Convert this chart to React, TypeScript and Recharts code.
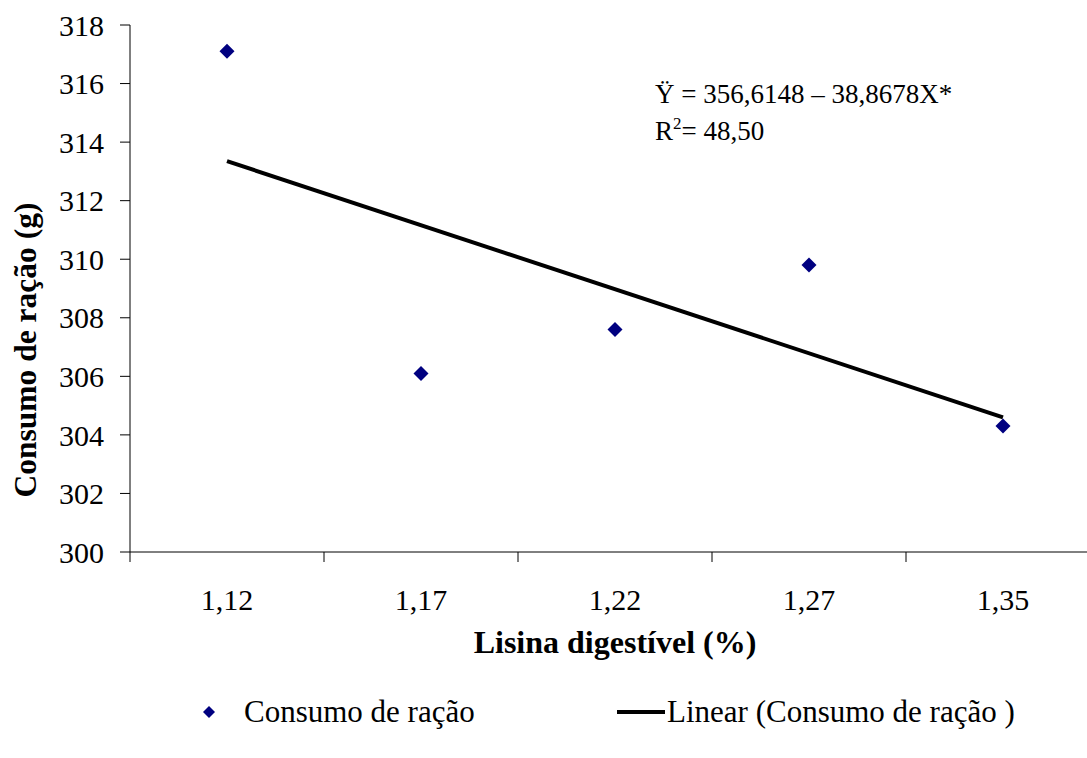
import React from "react";
import {
  ComposedChart,
  Scatter,
  Line,
  XAxis,
  YAxis,
  Legend,
} from "recharts";

// lisina digestível (%) - categorias do eixo x
const lisina = ["1,12", "1,17", "1,22", "1,27", "1,35"];
const posicao = [1, 2, 3, 4, 5];
// consumo de ração observado (g)
const consumo = [317.1, 306.1, 307.6, 309.8, 304.3];
// linha de tendência (pontas)
const tendencia = [313.35, null, null, null, 304.6];
const yTicks = [300, 302, 304, 306, 308, 310, 312, 314, 316, 318];

const SERIE = "Consumo de ração";
const LINEAR = "Linear (Consumo de ração )";

const FONT = '"Liberation Serif", "Times New Roman", serif';
const W = 1110;
const H = 758;
const MARGIN = { top: 25, right: 10, left: 0, bottom: 26 };
const Y_WIDTH = 130;
const HALF_BAND = (W - MARGIN.left - MARGIN.right - Y_WIDTH) / lisina.length / 2;

const data = posicao.map((x, i) => ({
  x,
  consumo: consumo[i],
  trend: tendencia[i],
}));

const Diamond = (props: any) => {
  const { cx, cy } = props;
  const r = 7.5;
  return (
    <polygon
      points={`${cx},${cy - r} ${cx + r},${cy} ${cx},${cy + r} ${cx - r},${cy}`}
      fill="#000080"
    />
  );
};

const XTick = (props: any) => {
  const { x, y, payload } = props;
  const label = lisina[payload.value - 1] ?? "";
  return (
    <g>
      <line x1={x - HALF_BAND} y1={y} x2={x - HALF_BAND} y2={y + 10} stroke="#000" />
      <text x={x} y={y + 58} textAnchor="middle" fontFamily={FONT} fontSize={30} fill="#000">
        {label}
      </text>
    </g>
  );
};

const XLabel = (props: any) => {
  const vb = props.viewBox || { x: Y_WIDTH, y: 552, width: 970, height: 140 };
  return (
    <text
      x={vb.x + vb.width / 2}
      y={vb.y + 101}
      textAnchor="middle"
      fontFamily={FONT}
      fontSize={32}
      fontWeight="bold"
      fill="#000"
    >
      Lisina digestível (%)
    </text>
  );
};

// rótulo vertical, um pouco abaixo do centro da área do gráfico (como no original)
const YLabel = () => {
  const lx = 36;
  const ly = 350;
  return (
    <text
      x={lx}
      y={ly}
      transform={`rotate(-90, ${lx}, ${ly})`}
      textAnchor="middle"
      fontFamily={FONT}
      fontSize={31.5}
      fontWeight="bold"
      fill="#000"
    >
      Consumo de ração (g)
    </text>
  );
};

const LegendContent = () => (
  <div style={{ position: "relative", height: 40, fontFamily: FONT, fontSize: 31, color: "#000" }}>
    <svg style={{ position: "absolute", left: 203, top: 14 }} width={12} height={12}>
      <polygon points="6,0 12,6 6,12 0,6" fill="#000080" />
    </svg>
    <span style={{ position: "absolute", left: 244, top: 2, lineHeight: "36px", whiteSpace: "nowrap" }}>
      {SERIE}
    </span>
    <svg style={{ position: "absolute", left: 617, top: 18 }} width={48} height={4}>
      <rect x={0} y={0} width={48} height={4} fill="#000" />
    </svg>
    <span style={{ position: "absolute", left: 667, top: 2, lineHeight: "36px", whiteSpace: "nowrap" }}>
      {LINEAR}
    </span>
  </div>
);

export default function App() {
  return (
    <div
      style={{
        position: "absolute",
        left: 0,
        top: 0,
        width: 1087,
        height: 758,
        overflow: "hidden",
        background: "#fff",
      }}
    >
      <ComposedChart width={W} height={H} data={data} margin={MARGIN}>
        <XAxis
          dataKey="x"
          type="number"
          domain={[0.5, 5.5]}
          ticks={posicao}
          allowDataOverflow
          height={140}
          stroke="#000"
          tickSize={0}
          tickMargin={0}
          tickLine={false}
          tick={<XTick />}
          label={<XLabel />}
        />
        <YAxis
          type="number"
          domain={[300, 318]}
          ticks={yTicks}
          width={Y_WIDTH}
          stroke="#000"
          tickSize={10}
          tickMargin={16}
          tick={{ fill: "#000", fontFamily: FONT, fontSize: 30 }}
          label={<YLabel />}
        />
        <Scatter name={SERIE} dataKey="consumo" shape={<Diamond />} isAnimationActive={false} />
        <Line
          name={LINEAR}
          dataKey="trend"
          stroke="#000"
          strokeWidth={4}
          dot={false}
          activeDot={false}
          connectNulls
          isAnimationActive={false}
        />
        <Legend verticalAlign="bottom" height={40} content={<LegendContent />} />
      </ComposedChart>
      <svg
        width={1087}
        height={758}
        style={{ position: "absolute", left: 0, top: 0, pointerEvents: "none" }}
      >
        <text x={655} y={103} fontFamily={FONT} fontSize={27} fill="#000">
          Ÿ = 356,6148 – 38,8678X*
        </text>
        <text x={655} y={140} fontFamily={FONT} fontSize={27} fill="#000">
          R<tspan dy={-11} fontSize={17}>2</tspan>
          <tspan dy={11}>= 48,50</tspan>
        </text>
      </svg>
    </div>
  );
}
